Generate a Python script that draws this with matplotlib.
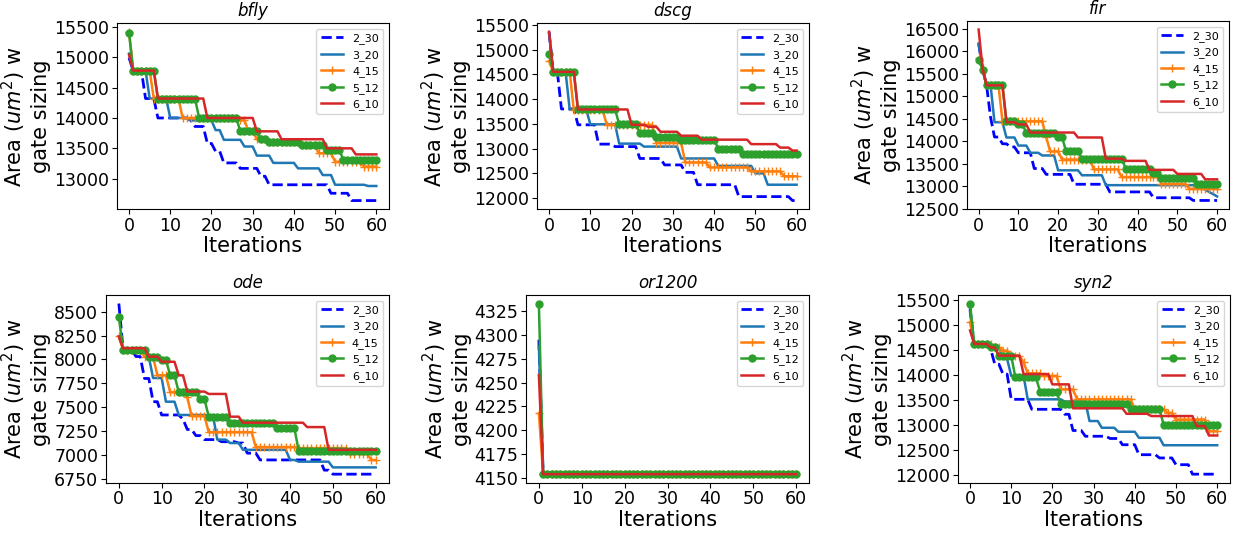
import numpy as np
import matplotlib
matplotlib.use('Agg')
import matplotlib.pyplot as plt
from matplotlib.ticker import MultipleLocator

# Step data: (first iteration, value held from there on)
labels = ['2_30', '3_20', '4_15', '5_12', '6_10']
n_iter = 61

bfly_2_30 = [(0, 14990), (1, 14780), (4, 14320), (7, 14000), (15, 13960), (16, 13860), (19, 13580),
             (21, 13450), (23, 13260), (27, 13170), (32, 13040), (34, 12900), (49, 12760), (54, 12640)]
bfly_3_20 = [(0, 15060), (1, 14780), (5, 14320), (10, 14000), (15, 13960), (21, 13800), (23, 13640),
             (28, 13530), (31, 13380), (35, 13260), (41, 13170), (47, 13060), (50, 12900), (58, 12880)]
bfly_4_15 = [(0, 15420), (1, 14780), (6, 14320), (13, 14000), (27, 13960), (29, 13780), (31, 13650),
             (34, 13610), (42, 13560), (46, 13420), (50, 13280), (57, 13200)]
bfly_5_12 = [(0, 15400), (1, 14780), (7, 14320), (17, 14000), (27, 13780), (32, 13660), (34, 13610),
             (42, 13560), (48, 13480), (52, 13310)]
bfly_6_10 = [(0, 15040), (1, 14780), (7, 14320), (19, 14000), (31, 13780), (37, 13650), (48, 13500),
             (55, 13400)]

dscg_2_30 = [(0, 15350), (1, 14550), (3, 13800), (7, 13480), (12, 13090), (16, 13040), (22, 12800),
             (28, 12670), (33, 12520), (36, 12270), (46, 12030), (59, 11950)]
dscg_3_20 = [(0, 15340), (1, 14550), (5, 13790), (10, 13490), (17, 13100), (23, 13040), (32, 12800),
             (41, 12650), (50, 12500), (53, 12270)]
dscg_4_15 = [(0, 14770), (1, 14550), (6, 13770), (14, 13480), (26, 13120), (33, 12720), (39, 12620),
             (49, 12540), (57, 12440)]
dscg_5_12 = [(0, 14910), (1, 14550), (7, 13790), (17, 13490), (22, 13320), (26, 13240), (32, 13180),
             (41, 13000), (47, 12900)]
dscg_6_10 = [(0, 15360), (1, 14550), (7, 13790), (20, 13480), (24, 13440), (27, 13340), (32, 13260),
             (37, 13180), (49, 13090), (56, 13020), (59, 12960)]

fir_2_30 = [(0, 16170), (1, 15610), (2, 15240), (3, 14530), (4, 14090), (6, 13940), (8, 13870),
            (10, 13740), (14, 13390), (17, 13260), (24, 13040), (33, 12870), (44, 12740), (54, 12680)]
fir_3_20 = [(0, 16170), (1, 15610), (2, 15240), (4, 14420), (7, 14080), (10, 13900), (13, 13740),
            (16, 13680), (20, 13350), (26, 13240), (32, 13020), (56, 12960), (57, 12920), (58, 12870),
            (59, 12820), (60, 12770)]
fir_4_15 = [(0, 15850), (1, 15610), (2, 15240), (6, 14440), (17, 14090), (18, 13770), (21, 13590),
            (29, 13370), (36, 13200), (46, 13050), (53, 12940)]
fir_5_12 = [(0, 15800), (1, 15590), (2, 15240), (7, 14440), (10, 14370), (12, 14190), (20, 14090),
            (22, 13770), (26, 13610), (37, 13390), (44, 13300), (46, 13190), (55, 13040)]
fir_6_10 = [(0, 16480), (1, 15610), (2, 15240), (7, 14420), (10, 14370), (13, 14190), (25, 14080),
            (32, 13610), (37, 13560), (43, 13360), (50, 13270), (57, 13150)]

ode_2_30 = [(0, 8585), (1, 8100), (4, 8030), (6, 7800), (8, 7557), (10, 7418), (15, 7372), (16, 7266),
            (18, 7202), (20, 7160), (24, 7138), (28, 7124), (30, 7018), (33, 6947), (48, 6840), (50, 6798)]
ode_3_20 = [(0, 8240), (1, 8117), (7, 8028), (8, 7805), (11, 7557), (14, 7418), (21, 7410), (23, 7160),
            (26, 7124), (29, 7053), (40, 6947), (42, 6929), (50, 6869)]
ode_4_15 = [(0, 8240), (1, 8100), (6, 8028), (9, 7833), (12, 7656), (16, 7603), (17, 7408), (21, 7238),
            (32, 7082), (42, 7071), (54, 7011), (59, 6947)]
ode_5_12 = [(0, 8443), (1, 8100), (7, 8028), (10, 7993), (12, 7833), (14, 7656), (19, 7585), (21, 7400),
            (26, 7330), (37, 7284), (42, 7045)]
ode_6_10 = [(0, 8240), (1, 8117), (7, 8028), (10, 7975), (14, 7833), (16, 7663), (21, 7638), (26, 7400),
            (29, 7337), (44, 7291), (49, 7053)]

or1200_2_30 = [(0, 4295), (1, 4154)]
or1200_3_20 = [(0, 4288), (1, 4154)]
or1200_4_15 = [(0, 4218), (1, 4154)]
or1200_5_12 = [(0, 4333), (1, 4154)]
or1200_6_10 = [(0, 4258), (1, 4154)]

syn2_2_30 = [(0, 15330), (1, 14620), (5, 14520), (6, 14215), (8, 14015), (10, 13510), (15, 13310),
             (23, 13210), (25, 12885), (28, 12770), (34, 12725), (37, 12600), (41, 12400), (46, 12335),
             (50, 12200), (54, 12010)]
syn2_3_20 = [(0, 15260), (1, 14620), (6, 14550), (8, 14320), (10, 13980), (14, 13510), (23, 13465),
             (29, 13075), (32, 12940), (36, 12860), (41, 12740), (47, 12590)]
syn2_4_15 = [(0, 15055), (1, 14620), (6, 14550), (8, 14485), (10, 14385), (13, 14250), (14, 14030),
             (18, 13980), (22, 13710), (26, 13510), (40, 13310), (48, 13240), (50, 13105), (58, 12870)]
syn2_5_12 = [(0, 15430), (1, 14620), (5, 14550), (7, 14385), (11, 13950), (17, 13665), (22, 13410),
             (39, 13310), (47, 13005)]
syn2_6_10 = [(0, 14890), (1, 14620), (5, 14550), (7, 14385), (13, 14015), (20, 13810), (25, 13330),
             (38, 13220), (44, 13175), (55, 12975), (58, 12785)]

designs = ['bfly', 'dscg', 'fir', 'ode', 'or1200', 'syn2']
ytick_steps = [500, 500, 500, 250, 25, 500]
series = {
    'bfly': [bfly_2_30, bfly_3_20, bfly_4_15, bfly_5_12, bfly_6_10],
    'dscg': [dscg_2_30, dscg_3_20, dscg_4_15, dscg_5_12, dscg_6_10],
    'fir': [fir_2_30, fir_3_20, fir_4_15, fir_5_12, fir_6_10],
    'ode': [ode_2_30, ode_3_20, ode_4_15, ode_5_12, ode_6_10],
    'or1200': [or1200_2_30, or1200_3_20, or1200_4_15, or1200_5_12, or1200_6_10],
    'syn2': [syn2_2_30, syn2_3_20, syn2_4_15, syn2_5_12, syn2_6_10],
}


def expand(steps):
    """Turn (start, value) steps into one value per iteration."""
    starts = [s for s, _ in steps] + [n_iter]
    vals = [v for _, v in steps]
    return np.repeat(vals, np.diff(starts))


styles = [
    dict(color='b', linestyle='--', lw=2),
    dict(color='tab:blue', lw=1.8),
    dict(color='tab:orange', lw=1.8, marker='+', markersize=6),
    dict(color='tab:green', lw=1.8, marker='o', markersize=5),
    dict(color='tab:red', lw=1.8),
]

W, H = 1246, 533
# axes boxes in pixels: left, top, right, bottom
boxes = [
    (116.7, 23.3, 388.7, 209),
    (536.7, 23.3, 809, 209),
    (966.7, 21, 1229, 209),
    (106, 295, 388.5, 482.7),
    (526, 295, 809, 482.7),
    (957.7, 295, 1229.5, 482.7),
]

fig = plt.figure(figsize=(W / 100, H / 100), dpi=100)
it = np.arange(n_iter)

for name, step, (l, t, r, b) in zip(designs, ytick_steps, boxes):
    ax = fig.add_axes([l / W, 1 - b / H, (r - l) / W, (b - t) / H])
    for steps, lab, st in zip(series[name], labels, styles):
        ax.plot(it, expand(steps), label=lab, **st)
    ax.set_title(name, fontsize=12, style='italic', pad=5)
    ax.set_xlabel('Iterations', fontsize=15, labelpad=1)
    ax.set_ylabel('Area ($um^2$) w\ngate sizing', fontsize=15, labelpad=2)
    ax.set_xticks([0, 10, 20, 30, 40, 50, 60])
    ax.yaxis.set_major_locator(MultipleLocator(step))
    ax.tick_params(labelsize=12.5, pad=2)
    ax.legend(loc='upper right', fontsize=8)

plt.savefig('out.png', dpi=100)
